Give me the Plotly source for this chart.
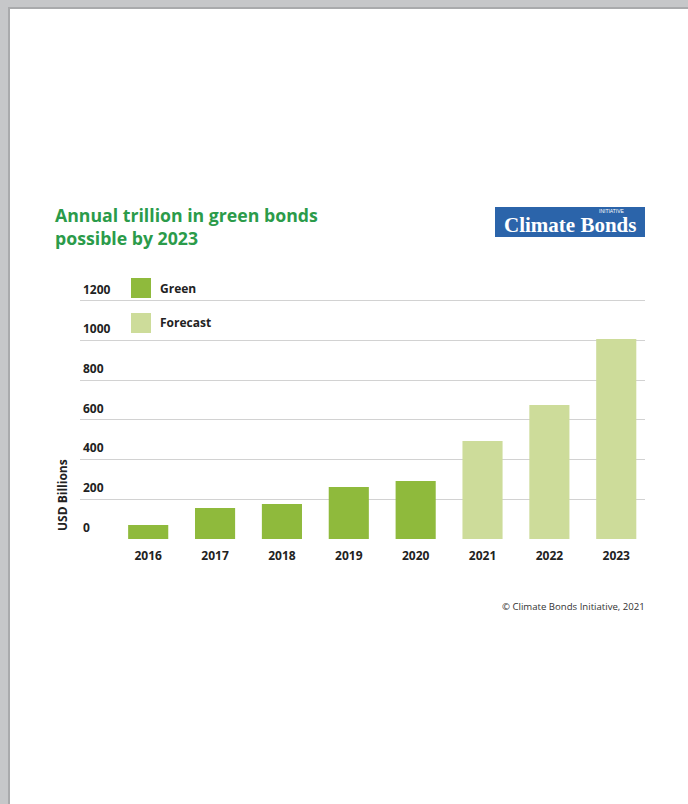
import plotly.graph_objects as go

years = ["2016", "2017", "2018", "2019", "2020", "2021", "2022", "2023"]
green_years = ["2016", "2017", "2018", "2019", "2020"]
green_values = [70, 156, 176, 262, 292]
forecast_years = ["2021", "2022", "2023"]
forecast_values = [494, 675, 1008]
y_ticks = [0, 200, 400, 600, 800, 1000, 1200]
legend_names = ["Green", "Forecast"]

W, H = 688, 804
L, R, T, B = 80, 43, 299, 265
PW, PH = W - L - R, H - T - B

def px(x):
    return (x - L) / PW

def py(y):
    return 1 - (y - T) / PH

GREEN = "#8fba3c"
FORECAST = "#cddc9a"
TITLE_GREEN = "#2b9b4a"
FONT = "Open Sans"
TXT = "#222222"

fig = go.Figure()
fig.add_trace(go.Bar(x=green_years, y=green_values, name=legend_names[0],
                     marker=dict(color=GREEN, line=dict(width=0)), showlegend=False))
fig.add_trace(go.Bar(x=forecast_years, y=forecast_values, name=legend_names[1],
                     marker=dict(color=FORECAST, line=dict(width=0)), showlegend=False))

shapes = [
    # page
    dict(type="rect", xref="paper", yref="paper", x0=px(8), x1=px(W + 5), y0=py(7), y1=py(H + 5),
         fillcolor="#a9aaac", line=dict(width=0), layer="below"),
    dict(type="rect", xref="paper", yref="paper", x0=px(10), x1=px(W + 5), y0=py(9), y1=py(H + 5),
         fillcolor="white", line=dict(width=0), layer="below"),
    # logo
    dict(type="rect", xref="paper", yref="paper", x0=px(495), x1=px(645), y0=py(207), y1=py(237),
         fillcolor="#2b64aa", line=dict(width=0), layer="below"),
    # legend swatches
    dict(type="rect", xref="paper", yref="paper", x0=px(131), x1=px(151), y0=py(278), y1=py(298),
         fillcolor=GREEN, line=dict(width=0), layer="above"),
    dict(type="rect", xref="paper", yref="paper", x0=px(131), x1=px(151), y0=py(313), y1=py(333),
         fillcolor=FORECAST, line=dict(width=0), layer="above"),
]

annotations = [
    dict(text="<b>Annual trillion in green bonds<br>possible by 2023</b>", x=px(53), y=py(226),
         xref="paper", yref="paper", xanchor="left", yanchor="middle", align="left",
         showarrow=False, font=dict(family=FONT, size=17.7, color=TITLE_GREEN)),
    dict(text="<b>" + legend_names[0] + "</b>", x=px(158), y=py(288), xref="paper", yref="paper",
         xanchor="left", yanchor="middle", showarrow=False, font=dict(family=FONT, size=12, color=TXT)),
    dict(text="<b>" + legend_names[1] + "</b>", x=px(158), y=py(322), xref="paper", yref="paper",
         xanchor="left", yanchor="middle", showarrow=False, font=dict(family=FONT, size=12, color=TXT)),
    dict(text="<b>USD Billions</b>", x=px(62), y=py(495), xref="paper", yref="paper",
         xanchor="center", yanchor="middle", textangle=-90, showarrow=False,
         font=dict(family=FONT, size=12, color=TXT)),
    dict(text="<b>Climate Bonds</b>", x=px(570), y=py(225), xref="paper", yref="paper",
         xanchor="center", yanchor="middle", showarrow=False, borderpad=0,
         font=dict(family="Liberation Serif", size=21, color="white")),
    dict(text="INITIATIVE", x=px(612), y=py(211), xref="paper", yref="paper",
         xanchor="center", yanchor="middle", showarrow=False, borderpad=0,
         font=dict(family="Liberation Sans", size=5, color="white")),
    dict(text="© Climate Bonds Initiative, 2021", x=px(647), y=py(606), xref="paper", yref="paper",
         xanchor="right", yanchor="middle", showarrow=False,
         font=dict(family=FONT, size=9.6, color="#333")),
]

fig.update_layout(
    width=W, height=H,
    margin=dict(l=L, r=R, t=T, b=B, autoexpand=False),
    paper_bgcolor="#c6c7c9",
    plot_bgcolor="rgba(0,0,0,0)",
    barmode="overlay",
    bargap=0.4,
    xaxis=dict(type="category", categoryorder="array", categoryarray=years,
               tickvals=years, ticktext=["<b>" + y + "</b>" for y in years],
               range=[-1.02, 7.43], showgrid=False, zeroline=False, showline=False,
               ticks="", ticklabelstandoff=8,
               tickfont=dict(family=FONT, size=12, color=TXT), fixedrange=True),
    yaxis=dict(range=[0, 1210], tickvals=y_ticks, ticktext=["<b>" + str(v) + "</b>" for v in y_ticks],
               showgrid=True, gridcolor="#d2d2d2", gridwidth=1, zeroline=False, showline=False,
               ticks="", ticklabelposition="inside top", ticklabeloverflow="allow",
               ticklabelshift=-3,
               tickfont=dict(family=FONT, size=12, color=TXT), fixedrange=True),
    shapes=shapes,
    annotations=annotations,
    showlegend=False,
)

fig.write_html("out.html")
